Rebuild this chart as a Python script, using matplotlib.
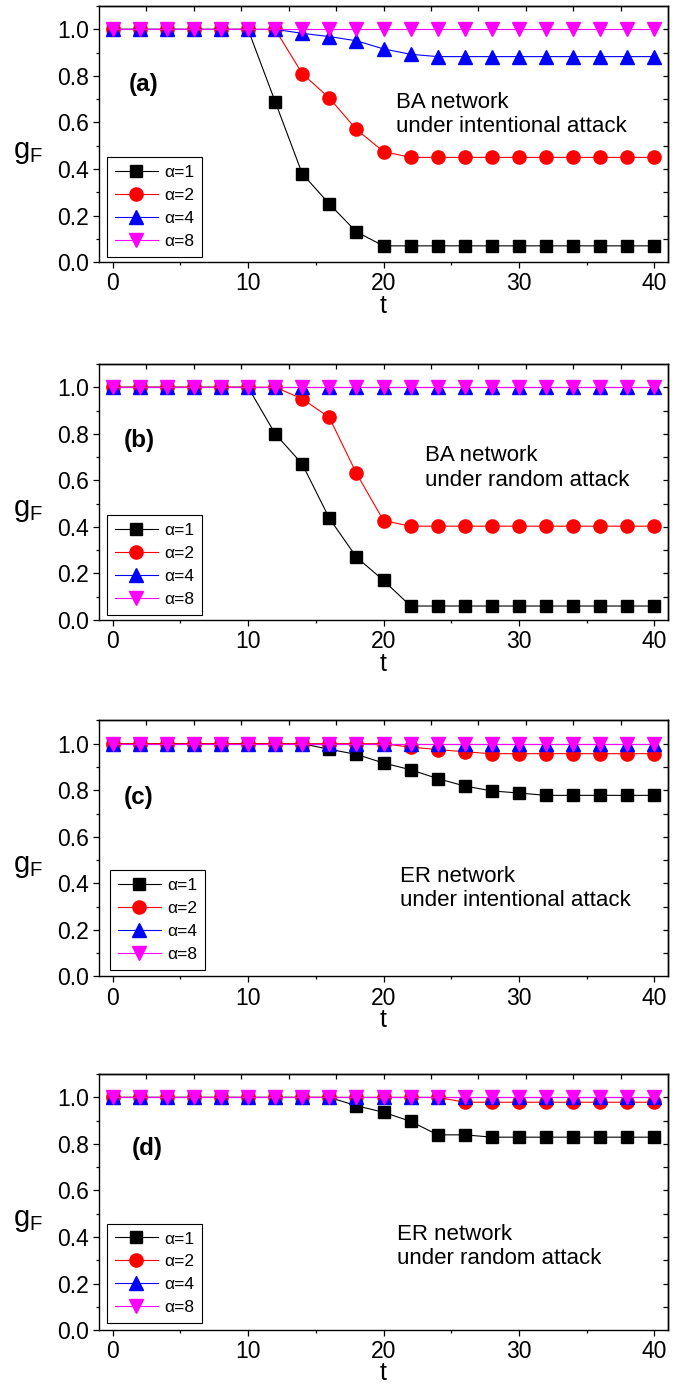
import numpy as np
import matplotlib
matplotlib.use('Agg')
import matplotlib.pyplot as plt
from matplotlib.ticker import MultipleLocator

plt.rcParams['font.family'] = ['Liberation Sans', 'DejaVu Sans']
plt.rcParams['mathtext.fontset'] = 'custom'
plt.rcParams['mathtext.rm'] = 'Liberation Sans'

# time steps
t = [0, 2, 4, 6, 8, 10, 12, 14, 16, 18, 20, 22, 24, 26, 28, 30, 32, 34, 36, 38, 40]
alpha_labels = ['α=1', 'α=2', 'α=4', 'α=8']

# (a) BA network, intentional attack
ba_int_a1 = [1, 1, 1, 1, 1, 1, 0.69, 0.38, 0.25, 0.13, 0.07, 0.07, 0.07, 0.07, 0.07, 0.07, 0.07, 0.07, 0.07, 0.07, 0.07]
ba_int_a2 = [1, 1, 1, 1, 1, 1, 1, 0.81, 0.705, 0.57, 0.475, 0.45, 0.45, 0.45, 0.45, 0.45, 0.45, 0.45, 0.45, 0.45, 0.45]
ba_int_a4 = [1, 1, 1, 1, 1, 1, 1, 0.983, 0.969, 0.951, 0.916, 0.893, 0.883, 0.883, 0.883, 0.883, 0.883, 0.883, 0.883, 0.883, 0.883]
ba_int_a8 = [1, 1, 1, 1, 1, 1, 1, 1, 1, 1, 1, 1, 1, 1, 1, 1, 1, 1, 1, 1, 1]

# (b) BA network, random attack
ba_rnd_a1 = [1, 1, 1, 1, 1, 1, 0.80, 0.67, 0.437, 0.27, 0.17, 0.06, 0.06, 0.06, 0.06, 0.06, 0.06, 0.06, 0.06, 0.06, 0.06]
ba_rnd_a2 = [1, 1, 1, 1, 1, 1, 1, 0.95, 0.87, 0.63, 0.427, 0.403, 0.403, 0.403, 0.403, 0.403, 0.403, 0.403, 0.403, 0.403, 0.403]
ba_rnd_a4 = [1, 1, 1, 1, 1, 1, 1, 1, 1, 1, 1, 1, 1, 1, 1, 1, 1, 1, 1, 1, 1]
ba_rnd_a8 = [1, 1, 1, 1, 1, 1, 1, 1, 1, 1, 1, 1, 1, 1, 1, 1, 1, 1, 1, 1, 1]

# (c) ER network, intentional attack
er_int_a1 = [1, 1, 1, 1, 1, 1, 1, 1, 0.976, 0.954, 0.917, 0.888, 0.85, 0.818, 0.797, 0.788, 0.778, 0.778, 0.778, 0.778, 0.778]
er_int_a2 = [1, 1, 1, 1, 1, 1, 1, 1, 1, 1, 1, 0.985, 0.975, 0.965, 0.957, 0.957, 0.957, 0.957, 0.957, 0.957, 0.957]
er_int_a4 = [1, 1, 1, 1, 1, 1, 1, 1, 1, 1, 1, 1, 1, 1, 1, 1, 1, 1, 1, 1, 1]
er_int_a8 = [1, 1, 1, 1, 1, 1, 1, 1, 1, 1, 1, 1, 1, 1, 1, 1, 1, 1, 1, 1, 1]

# (d) ER network, random attack
er_rnd_a1 = [1, 1, 1, 1, 1, 1, 1, 1, 1, 0.964, 0.936, 0.897, 0.839, 0.839, 0.829, 0.829, 0.829, 0.829, 0.829, 0.829, 0.829]
er_rnd_a2 = [1, 1, 1, 1, 1, 1, 1, 1, 1, 1, 1, 1, 1, 0.979, 0.979, 0.979, 0.979, 0.979, 0.979, 0.979, 0.979]
er_rnd_a4 = [1, 1, 1, 1, 1, 1, 1, 1, 1, 1, 1, 1, 1, 1, 1, 1, 1, 1, 1, 1, 1]
er_rnd_a8 = [1, 1, 1, 1, 1, 1, 1, 1, 1, 1, 1, 1, 1, 1, 1, 1, 1, 1, 1, 1, 1]

colors = ['black', 'red', 'blue', 'magenta']
markers = ['s', 'o', '^', 'v']
msizes = [8, 9.5, 9.5, 9.5]

panels = [
    dict(series=[ba_int_a1, ba_int_a2, ba_int_a4, ba_int_a8], tag='(a)', tag_xy=(0.078, 0.695),
         note='BA network\nunder intentional attack', note_xy=(0.522, 0.578),
         bottom=0.8110, leg_xy=(0.014, 0.0195), tpad=-1),
    dict(series=[ba_rnd_a1, ba_rnd_a2, ba_rnd_a4, ba_rnd_a8], tag='(b)', tag_xy=(0.070, 0.70),
         note='BA network\nunder random attack', note_xy=(0.573, 0.594),
         bottom=0.5530, leg_xy=(0.014, 0.0195), tpad=-1),
    dict(series=[er_int_a1, er_int_a2, er_int_a4, er_int_a8], tag='(c)', tag_xy=(0.069, 0.70),
         note='ER network\nunder intentional attack', note_xy=(0.529, 0.344),
         bottom=0.2960, leg_xy=(0.019, 0.027), tpad=-1),
    dict(series=[er_rnd_a1, er_rnd_a2, er_rnd_a4, er_rnd_a8], tag='(d)', tag_xy=(0.084, 0.71),
         note='ER network\nunder random attack', note_xy=(0.524, 0.328),
         bottom=0.0410, leg_xy=(0.014, 0.027), tpad=-1.8),
]

fig = plt.figure(figsize=(6.8, 13.87), dpi=100)
x_lo, x_hi = -1, 41

for p in panels:
    ax = fig.add_axes([0.1456, p['bottom'], 0.8368, 0.1846])
    for vals, lab, c, m, ms in zip(p['series'], alpha_labels, colors, markers, msizes):
        ax.plot(t, vals, color=c, marker=m, markersize=ms, markeredgecolor=c,
                linewidth=0.8, label=lab)

    ax.set_xlim(x_lo, x_hi)
    ax.set_ylim(0, 1.1)
    ax.xaxis.set_major_locator(MultipleLocator(10))
    ax.xaxis.set_minor_locator(MultipleLocator(5))
    ax.yaxis.set_major_locator(MultipleLocator(0.2))
    ax.yaxis.set_minor_locator(MultipleLocator(0.1))
    ax.yaxis.set_major_formatter(plt.FuncFormatter(lambda v, _: f'{v:.1f}'))
    ax.tick_params(which='major', direction='out', length=4.3, width=0.9, labelsize=16.5, pad=3)
    ax.tick_params(which='minor', direction='out', length=2.3, width=0.9)
    for s in ax.spines.values():
        s.set_linewidth(1.0)

    # Origin-style inner ticks on the top and right edges
    top = ax.secondary_xaxis('top')
    top.set_xticks(np.linspace(x_lo, x_hi, 13)[1:-1])
    top.tick_params(direction='in', length=3.6, width=0.9, labeltop=False)
    top.spines['top'].set_linewidth(1.0)
    right = ax.secondary_yaxis('right')
    right.set_yticks(np.arange(0.1, 1.05, 0.1))
    right.tick_params(direction='in', length=3.6, width=0.9, labelright=False)
    right.spines['right'].set_linewidth(1.0)

    ax.set_xlabel('t', fontsize=18, labelpad=p['tpad'])
    ax.set_ylabel(r'$\mathregular{g_F}$', fontsize=21, rotation=0, ha='center', va='center')
    ax.yaxis.set_label_coords(-0.125, 0.43)

    ax.text(*p['tag_xy'], p['tag'], transform=ax.transAxes, fontsize=17.5,
            fontweight='bold', ha='center', va='center')
    ax.text(*p['note_xy'], p['note'], transform=ax.transAxes, fontsize=16,
            ha='left', va='center', linespacing=1.2)

    leg = ax.legend(loc='lower left', bbox_to_anchor=p['leg_xy'], borderaxespad=0,
                    fontsize=12.5, fancybox=False, edgecolor='black', framealpha=1,
                    handlelength=2.5, handletextpad=0.35, labelspacing=0.45,
                    borderpad=0.45, numpoints=1)
    leg.get_frame().set_linewidth(0.8)

fig.savefig('out.png', dpi=100)
